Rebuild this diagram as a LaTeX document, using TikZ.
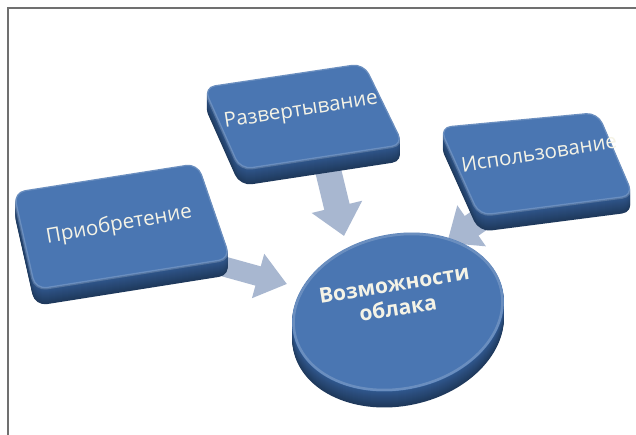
\documentclass[tikz,border=0pt]{standalone}
\usepackage{fontspec}
\setmainfont{Open Sans}
\usetikzlibrary{arrows.meta}
\definecolor{topc}{RGB}{74,118,178}
\definecolor{sidec}{RGB}{48,88,142}
\definecolor{arrc}{RGB}{168,183,208}
\definecolor{txtc}{RGB}{245,243,230}
\definecolor{framec}{RGB}{112,112,112}
\tikzset{
  blockarrow/.style={arrc, line width=#1},
  txt/.style={text=txtc, font=\fontsize{20.5}{24}\selectfont, inner sep=0pt},
  ctxt/.style={text=txtc, font=\fontsize{21}{24}\selectfont\bfseries, align=center, inner sep=0pt},
  topface/.style={fill=topc, rounded corners=12pt},
  bevel/.style={draw=white, draw opacity=0.18, line width=2.5pt, rounded corners=12pt},
}
\newcommand\slabside[4]{%
  \foreach \d [evaluate=\d as \c using 100-2.2*\d] in {16,15,...,1}
    \fill[sidec!\c!black, rounded corners=12pt, shift={(0,\d)}] #1 -- #2 -- #3 -- #4 -- cycle;
  \fill[topface] #1 -- #2 -- #3 -- #4 -- cycle;
  \path[bevel] #1 -- #2 -- #3 -- #4 -- cycle;
}
\begin{document}
\begin{tikzpicture}[x=1pt,y=-1pt]
\useasboundingbox (0,0) rectangle (636,435);
\fill[white] (0,0) rectangle (636,435);
\draw[framec, line width=1.6pt] (7.8,435) -- (7.8,7.8) -- (636,7.8);

% arrows
\coordinate (a1s) at (222,266);
\coordinate (a1e) at (287,284);
\coordinate (a2s) at (328,170);
\coordinate (a2e) at (344,236);
\coordinate (a3s) at (500,206);
\coordinate (a3e) at (447,243);
\draw[blockarrow=20pt, -{Triangle[width=44pt,length=30pt]}] (a1s) -- (a1e);
\draw[blockarrow=26pt, -{Triangle[width=50pt,length=30pt]}] (a2s) -- (a2e);
\draw[blockarrow=24pt, -{Triangle[width=48pt,length=30pt]}] (a3s) -- (a3e);

% boxes
\slabside{(13,192)}{(198,163)}{(231,259)}{(35,290)}
\slabside{(203,87)}{(364,63)}{(404,145)}{(240,170)}
\slabside{(439,127)}{(598,112)}{(634,196)}{(479,216)}

% disk
\foreach \d [evaluate=\d as \c using 100-2.2*\d] in {16,15,...,1}
  \fill[sidec!\c!black] (398,{312+\d}) ellipse [x radius=107, y radius=78, rotate=12];
\fill[topc] (398,312) ellipse [x radius=107, y radius=78, rotate=12];
\draw[white, opacity=0.18, line width=2.5pt] (398,312) ellipse [x radius=105.5, y radius=76.5, rotate=12];

% texts
\node[txt, rotate=10] (tp) at (119,225) {Приобретение};
\node[txt, rotate=9] (tr) at (301,111) {Развертывание};
\node[txt, rotate=9] (ti) at (539,153) {Использование};
\node[ctxt, rotate=9] (tc) at (396,296) {Возможности\\облака};
\end{tikzpicture}
\end{document}
